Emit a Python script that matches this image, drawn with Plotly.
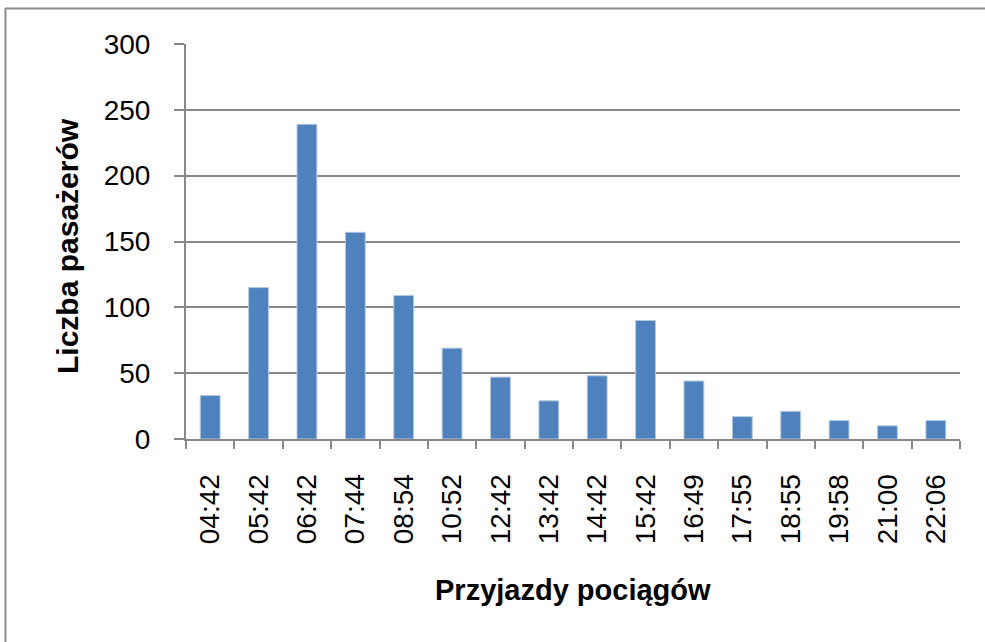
import plotly.graph_objects as go

categories = ["04:42", "05:42", "06:42", "07:44", "08:54", "10:52", "12:42", "13:42",
              "14:42", "15:42", "16:49", "17:55", "18:55", "19:58", "21:00", "22:06"]
passengers = [33, 115, 239, 157, 109, 69, 47, 29, 48, 90, 44, 17, 21, 14, 10, 14]
y_title = "Liczba pasażerów"
x_title = "Przyjazdy pociągów"

W, H = 985, 642
L, R, T, B = 186, 25, 44, 203
pw, ph = W - L - R, H - T - B

def px_x(px):
    return (px - L) / pw

def px_y(py):
    return (H - B - py) / ph

FONT = "Arial, Liberation Sans, sans-serif"
GRAY = "#888888"

fig = go.Figure(go.Bar(
    x=categories, y=passengers,
    marker=dict(color="#4F81BD", line=dict(color="#B3C8E2", width=1)),
))

fig.update_layout(
    width=W, height=H,
    margin=dict(l=L, r=R, t=T, b=B, autoexpand=False),
    paper_bgcolor="white", plot_bgcolor="white",
    bargap=0.59, showlegend=False,
    font=dict(family=FONT, color="black"),
    xaxis=dict(type="category", tickangle=-90, tickfont=dict(size=28),
               showline=True, linecolor=GRAY, linewidth=2,
               ticks="outside", tickson="boundaries", ticklen=8, tickwidth=2, tickcolor=GRAY,
               ticklabelstandoff=22, showgrid=False),
    yaxis=dict(range=[0, 300], dtick=50, tickfont=dict(size=28),
               showline=True, linecolor=GRAY, linewidth=2,
               ticks="outside", ticklen=10, tickwidth=2, tickcolor=GRAY,
               ticklabelstandoff=18,
               showgrid=True, gridcolor=GRAY, gridwidth=2, zeroline=False),
    annotations=[
        dict(text=f"<b>{x_title}</b>", xref="paper", yref="paper",
             x=0.5, y=px_y(590), showarrow=False, font=dict(size=29),
             xanchor="center", yanchor="middle"),
        dict(text=f"<b>{y_title}</b>", xref="paper", yref="paper",
             x=px_x(67), y=px_y(246), showarrow=False, font=dict(size=30), textangle=-90,
             xanchor="center", yanchor="middle"),
    ],
    shapes=[
        dict(type="line", xref="paper", yref="paper", x0=px_x(5), x1=px_x(1000),
             y0=px_y(8.5), y1=px_y(8.5), line=dict(color="#8C8C8C", width=2)),
        dict(type="line", xref="paper", yref="paper", x0=px_x(5.5), x1=px_x(5.5),
             y0=px_y(8), y1=px_y(660), line=dict(color="#8C8C8C", width=2)),
    ],
)

fig.write_html("out.html", config={"displayModeBar": False},
               post_script="document.body.style.margin='0px';document.body.style.overflow='hidden';")
